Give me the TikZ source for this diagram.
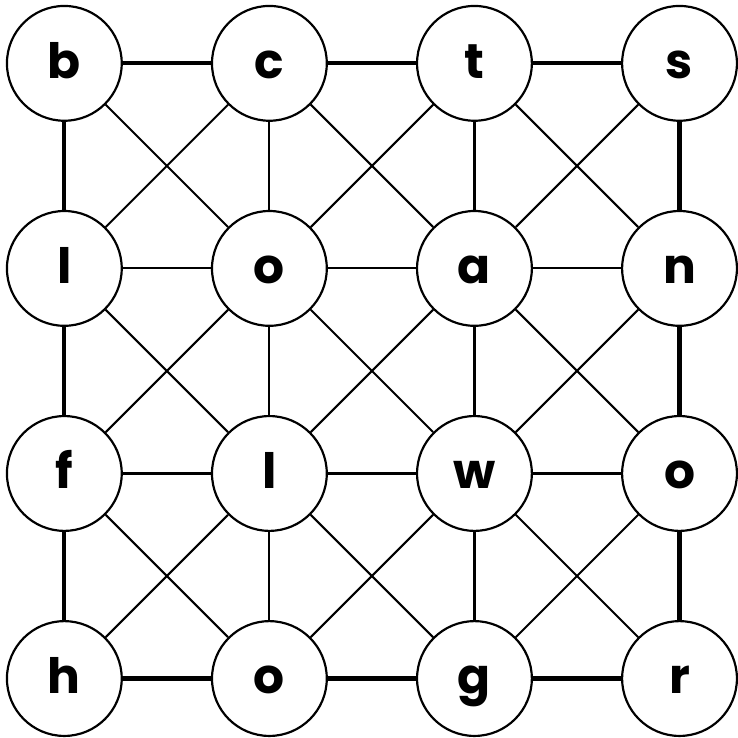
\documentclass[tikz,border=0pt]{standalone}
\usepackage{fontspec}
\setmainfont{Poppins}
\usepackage{tikz}
\usetikzlibrary{positioning,calc}

\begin{document}
\begin{tikzpicture}[
    node distance=1.78cm,
    cell/.style={circle, draw, line width=1.25pt, minimum size=2.32cm, inner sep=0pt, text height=0.8cm, text depth=0.2cm, font=\fontsize{28}{30}\selectfont\bfseries},
    rim/.style={line width=2.4pt},
    link/.style={line width=1.2pt}
]
% top row
\node[cell] (b) {b};
\node[cell, right=of b] (c) {c};
\node[cell, right=of c] (t) {t};
\node[cell, right=of t] (s) {s};
% second row
\node[cell, below=of b] (l1) {l};
\node[cell, right=of l1] (o1) {o};
\node[cell, right=of o1] (a) {a};
\node[cell, right=of a] (n) {n};
% third row
\node[cell, below=of l1] (f) {f};
\node[cell, right=of f] (l2) {l};
\node[cell, right=of l2] (w) {w};
\node[cell, right=of w] (o2) {o};
% bottom row
\node[cell, below=of f] (h) {h};
\node[cell, right=of h] (o3) {o};
\node[cell, right=of o3] (g) {g};
\node[cell, right=of g] (r) {r};
\useasboundingbox ($(b.center)+(-1.3,1.28)$) rectangle ($(r.center)+(1.16,-1.16)$);
% outer frame
\draw[rim] (b) -- (c);
\draw[rim] (c) -- (t);
\draw[rim] (t) -- (s);
\draw[rim] (h) -- (o3);
\draw[rim] (o3) -- (g);
\draw[rim] (g) -- (r);
\draw[rim] (b) -- (l1);
\draw[rim] (l1) -- (f);
\draw[rim] (f) -- (h);
\draw[rim] (s) -- (n);
\draw[rim] (n) -- (o2);
\draw[rim] (o2) -- (r);
% inner rows and columns
\draw[link] (l1) -- (o1);
\draw[link] (o1) -- (a);
\draw[link] (a) -- (n);
\draw[link] (f) -- (l2);
\draw[link] (l2) -- (w);
\draw[link] (w) -- (o2);
\draw[link] (c) -- (o1);
\draw[link] (o1) -- (l2);
\draw[link] (l2) -- (o3);
\draw[link] (t) -- (a);
\draw[link] (a) -- (w);
\draw[link] (w) -- (g);
% diagonals
\draw[link] (b) -- (o1);
\draw[link] (c) -- (l1);
\draw[link] (c) -- (a);
\draw[link] (t) -- (o1);
\draw[link] (t) -- (n);
\draw[link] (s) -- (a);
\draw[link] (l1) -- (l2);
\draw[link] (o1) -- (f);
\draw[link] (o1) -- (w);
\draw[link] (a) -- (l2);
\draw[link] (a) -- (o2);
\draw[link] (n) -- (w);
\draw[link] (f) -- (o3);
\draw[link] (l2) -- (h);
\draw[link] (l2) -- (g);
\draw[link] (w) -- (o3);
\draw[link] (w) -- (r);
\draw[link] (o2) -- (g);
\end{tikzpicture}
\end{document}
